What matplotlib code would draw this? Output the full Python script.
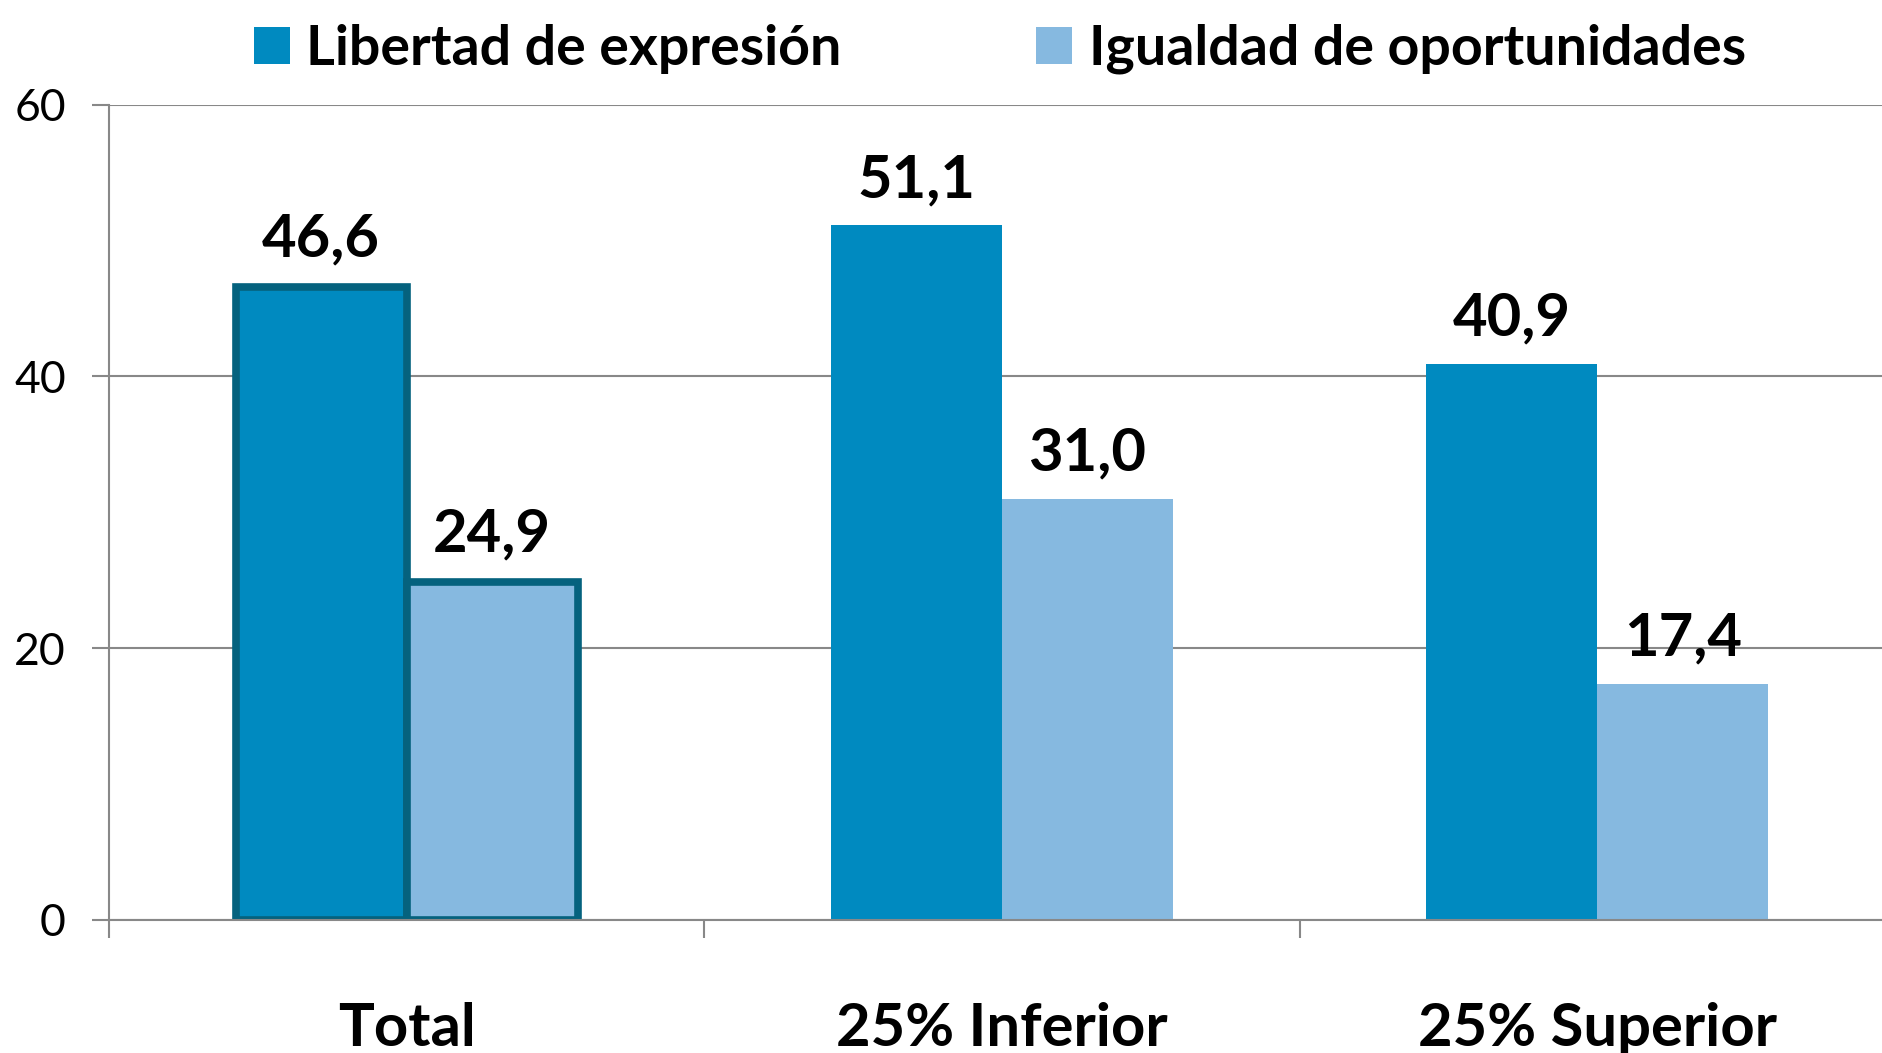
import matplotlib
matplotlib.use("Agg")
import matplotlib.pyplot as plt
from matplotlib.patches import Patch
import numpy as np

categories = ["Total", "25% Inferior", "25% Superior"]
series_names = ["Libertad de expresión", "Igualdad de oportunidades"]
libertad = [46.6, 51.1, 40.9]
igualdad = [24.9, 31.0, 17.4]
yticks = [0, 20, 40, 60]

c_dark = "#008AC0"
c_light = "#86B9E0"
c_edge = "#05627E"
c_grid = "#888888"

FONT = "Lato"

fig = plt.figure(figsize=(18.83, 10.53), dpi=100)
ax = fig.add_axes([109/1883, 1 - 920/1053, 1 - 109/1883, (920 - 104.5)/1053])

x = np.arange(len(categories))
w = 0.287

for i in range(len(categories)):
    ec = c_edge if i == 0 else "none"
    lw = 5.5 if i == 0 else 0
    ax.bar(x[i] - w/2, libertad[i], w, color=c_dark, edgecolor=ec, linewidth=lw, zorder=3)
    ax.bar(x[i] + w/2, igualdad[i], w, color=c_light, edgecolor=ec, linewidth=lw, zorder=3)

for i in range(len(categories)):
    extra = 1.5 if i == 0 else 0
    for xv, v in ((x[i] - w/2, libertad[i]), (x[i] + w/2, igualdad[i])):
        ax.annotate(f"{v:.1f}".replace(".", ","), (xv, v), xytext=(0, 20.5 + extra),
                    textcoords="offset points", ha="center", va="baseline",
                    fontsize=43, fontweight="bold", family=FONT, color="black")

ax.set_ylim(0, 60)
ax.set_xlim(-0.5, 2.48)
ax.set_yticks(yticks)
ax.set_yticklabels([str(t) for t in yticks], fontsize=32, family=FONT)
ax.yaxis.grid(True, color=c_grid, linewidth=1.5, zorder=0)
ax.tick_params(axis="y", length=12, width=1.5, color=c_grid, pad=19)

ax.set_xticks(x)
ax.set_xticklabels(categories, fontsize=43, fontweight="bold", family=FONT)
ax.tick_params(axis="x", which="major", length=0, pad=59)
ax.set_xticks([-0.5, 0.5, 1.5], minor=True)
ax.tick_params(axis="x", which="minor", length=13, width=1.5, color=c_grid)

for s in ["top", "right"]:
    ax.spines[s].set_visible(False)
for s in ["left", "bottom"]:
    ax.spines[s].set_color(c_grid)
    ax.spines[s].set_linewidth(1.5)
ax.spines["bottom"].set_zorder(4)

handles = [Patch(facecolor=c_dark, edgecolor="none"), Patch(facecolor=c_light, edgecolor="none")]
fig.legend(handles, series_names, loc="upper center", bbox_to_anchor=(0.531, 1.025), ncol=2,
           frameon=False, prop={"family": FONT, "weight": "bold", "size": 40},
           handlelength=0.65, handleheight=0.65, handletextpad=0.3, columnspacing=3.5)

fig.savefig("out.png", dpi=100)
